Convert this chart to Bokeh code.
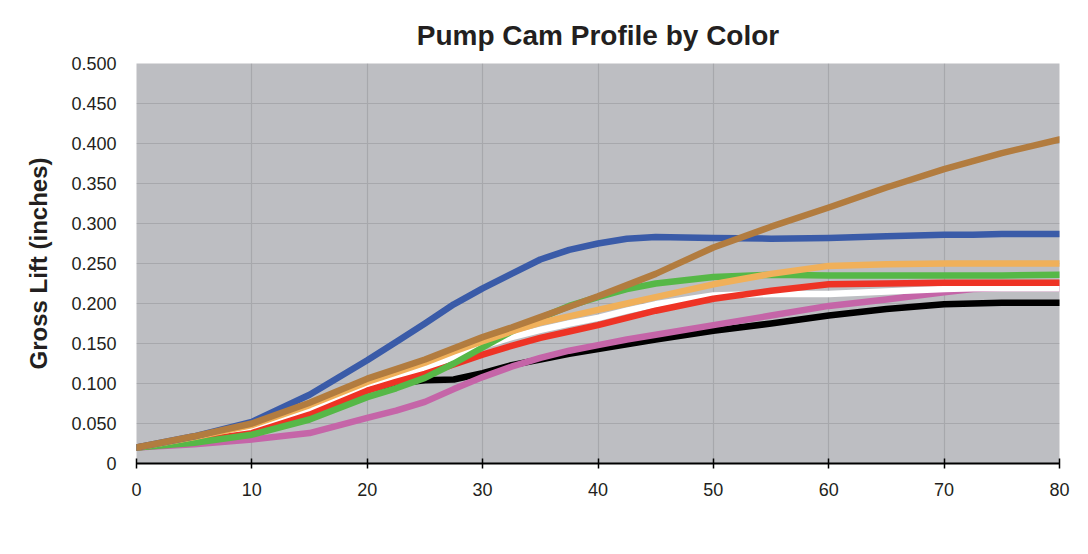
from bokeh.plotting import figure
from bokeh.models import Range1d, FixedTicker, CustomJSTickFormatter
from bokeh.embed import file_html
from bokeh.resources import INLINE

degrees = [0, 5, 10, 15, 20, 22.5, 25, 27.5, 30, 32.5, 35, 37.5, 40, 42.5, 45, 50, 55, 60, 65, 70, 72.5, 75, 80]

black = [0.020, 0.031, 0.043, 0.065, 0.093, 0.100, 0.104, 0.105, 0.113, 0.123, 0.130, 0.137, 0.143, 0.149, 0.155, 0.166, 0.175, 0.185, 0.193, 0.199, 0.200, 0.201, 0.201]
pink = [0.020, 0.024, 0.030, 0.038, 0.057, 0.066, 0.077, 0.093, 0.108, 0.121, 0.132, 0.141, 0.148, 0.155, 0.161, 0.173, 0.185, 0.197, 0.205, 0.214, 0.218, 0.219, 0.219]
white = [0.020, 0.031, 0.045, 0.066, 0.099, 0.109, 0.119, 0.133, 0.147, 0.158, 0.167, 0.175, 0.182, 0.191, 0.199, 0.210, 0.212, 0.212, 0.215, 0.218, 0.219, 0.219, 0.219]
red = [0.020, 0.028, 0.038, 0.061, 0.091, 0.102, 0.112, 0.124, 0.136, 0.147, 0.157, 0.165, 0.173, 0.182, 0.191, 0.206, 0.216, 0.224, 0.225, 0.226, 0.226, 0.226, 0.226]
green = [0.020, 0.026, 0.036, 0.055, 0.083, 0.094, 0.107, 0.125, 0.145, 0.165, 0.182, 0.197, 0.208, 0.218, 0.225, 0.233, 0.236, 0.235, 0.235, 0.235, 0.235, 0.235, 0.236]
orange = [0.020, 0.033, 0.048, 0.073, 0.102, 0.114, 0.126, 0.140, 0.153, 0.165, 0.176, 0.184, 0.192, 0.200, 0.208, 0.224, 0.237, 0.247, 0.249, 0.250, 0.250, 0.250, 0.250]
blue = [0.020, 0.034, 0.052, 0.086, 0.129, 0.152, 0.175, 0.199, 0.219, 0.237, 0.255, 0.267, 0.275, 0.281, 0.283, 0.282, 0.281, 0.282, 0.284, 0.286, 0.286, 0.287, 0.287]
brown = [0.020, 0.034, 0.050, 0.076, 0.106, 0.118, 0.130, 0.144, 0.158, 0.170, 0.183, 0.196, 0.209, 0.223, 0.237, 0.270, 0.296, 0.320, 0.345, 0.368, 0.378, 0.388, 0.405]

series = [
    (black, "#000000"),
    (pink, "#c565a8"),
    (white, "#ffffff"),
    (red, "#ee3325"),
    (green, "#56b847"),
    (orange, "#f0b05a"),
    (blue, "#3a5ba8"),
    (brown, "#b27c3f"),
]

x_ticks = [0, 10, 20, 30, 40, 50, 60, 70, 80]
y_ticks = [0, 0.05, 0.1, 0.15, 0.2, 0.25, 0.3, 0.35, 0.4, 0.45, 0.5]

p = figure(width=1072, height=530, output_backend="svg", toolbar_location=None,
           x_range=Range1d(0, 80), y_range=Range1d(0, 0.5),
           min_border_left=136, min_border_right=13, min_border_top=63, min_border_bottom=67)

p.title.text = "Pump Cam Profile by Color"
p.title.align = "center"
p.title.text_font = "Liberation Sans"
p.title.text_font_size = "28px"
p.title.text_font_style = "bold"
p.title.text_color = "#231f20"
p.title.standoff = 26

p.background_fill_color = "#bdbec2"
p.border_fill_color = "#ffffff"
p.outline_line_color = None

p.xgrid.ticker = FixedTicker(ticks=x_ticks)
p.ygrid.ticker = FixedTicker(ticks=y_ticks)
p.xgrid.grid_line_color = "#a7a8ac"
p.ygrid.grid_line_color = "#a7a8ac"
p.xgrid.grid_line_width = 1.2
p.ygrid.grid_line_width = 1.2

for ys, col in series:
    p.line(degrees, ys, line_color=col, line_width=6.5, line_join="round", line_cap="round")

xa = p.xaxis[0]
xa.ticker = FixedTicker(ticks=x_ticks)
xa.axis_line_color = "#000000"
xa.axis_line_width = 2
xa.major_tick_line_color = "#000000"
xa.major_tick_line_width = 1.5
xa.major_tick_in = 5
xa.major_tick_out = 5
xa.minor_tick_line_color = None
xa.major_label_text_font = "Liberation Sans"
xa.major_label_text_font_size = "18px"
xa.major_label_text_color = "#231f20"
xa.major_label_standoff = 14

ya = p.yaxis[0]
ya.ticker = FixedTicker(ticks=y_ticks)
ya.formatter = CustomJSTickFormatter(code="return tick == 0 ? '0' : tick.toFixed(3);")
ya.axis_line_color = None
ya.major_tick_line_color = None
ya.minor_tick_line_color = None
ya.major_tick_out = 0
ya.major_tick_in = 0
ya.major_label_standoff = 20
ya.major_label_text_font = "Liberation Sans"
ya.major_label_text_font_size = "18px"
ya.major_label_text_color = "#231f20"
ya.axis_label = "Gross Lift (inches)"
ya.axis_label_text_font = "Liberation Sans"
ya.axis_label_text_font_size = "24px"
ya.axis_label_text_font_style = "bold"
ya.axis_label_text_color = "#231f20"
ya.axis_label_standoff = 16

open("out.html", "w").write(file_html(p, INLINE))
